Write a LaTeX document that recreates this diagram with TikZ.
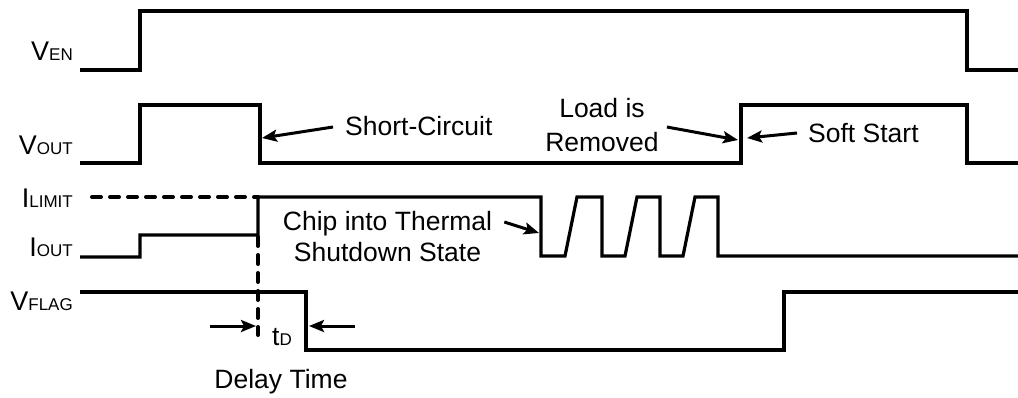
\documentclass[tikz,border=0pt]{standalone}
\usepackage{fontspec}
\setmainfont{Liberation Sans}
\usetikzlibrary{arrows.meta,positioning}
\newcommand{\signame}[2]{#1{\fontsize{17}{20}\selectfont #2}}

\begin{document}
\begin{tikzpicture}[x=1pt,y=-1pt,
  wave/.style={line width=3.2pt, line join=miter},
  limit/.style={line width=4pt, dash pattern=on 9pt off 9pt, line cap=round},
  sig/.style={anchor=base east, inner sep=0pt, font=\fontsize{27}{30}\selectfont},
  note/.style={inner sep=0pt, align=center, font=\fontsize{26.5}{34}\selectfont},
  pointer/.style={line width=3pt, -{Stealth[length=15pt,width=12pt,inset=3pt]}}
]
\useasboundingbox (0,0) rectangle (1018,397);

% signal names
\node[sig] (ven)   at (73,60)  {\signame{V}{EN}};
\node[sig] (vout)  at (73,154) {\signame{V}{OUT}};
\node[sig] (ilim)  at (73,207) {\signame{I}{LIMIT}};
\node[sig] (iout)  at (73,256) {\signame{I}{OUT}};
\node[sig] (vflag) at (73,310) {\signame{V}{FLAG}};

% waveforms
\draw[wave] (80,70) -- (140,70) -- (140,11) -- (967,11) -- (967,70) -- (1018,70);
\draw[wave] (80,163) -- (140,163) -- (140,105) -- (260,105) -- (260,163)
  -- (741,163) -- (741,105) -- (967,105) -- (967,163) -- (1018,163);
\draw[wave] (80,257) -- (140,257) -- (140,235) -- (258,235) -- (258,197)
  -- (541,197) -- (541,256) -- (565,256) -- (577,197) -- (602,197)
  -- (602,256) -- (625,256) -- (637,197) -- (660,197)
  -- (660,256) -- (683,256) -- (695,197) -- (718,197)
  -- (718,256) -- (1018,256);
\draw[wave] (80,292) -- (306,292) -- (306,350) -- (784,350) -- (784,292) -- (1018,292);
\draw[limit] (92,197) -- (258,197);
\draw[limit] (258,237) -- (258,335);

% annotations
\node[note, anchor=west] (sc) at (345,126) {Short-Circuit};
\node[note] (load) at (602,125) {Load is\\Removed};
\node[note, anchor=west] (soft) at (808,133) {Soft Start};
\node[note, font=\fontsize{26.5}{31}\selectfont] (chip) at (387.5,237) {Chip into Thermal\\Shutdown State};
\node[inner sep=0pt, font=\fontsize{26.5}{30}\selectfont] (td) at (282,337) {\signame{t}{D}};
\node[note] (delay) at (281,382) {Delay Time};

\coordinate (sctip)   at (262,138);
\coordinate (loadtip) at (738,140);
\coordinate (softtip) at (747,138);
\coordinate (chiptip) at (539,233);
\coordinate (tdla) at (210,326);
\coordinate (tdlb) at (256,326);
\coordinate (tdra) at (355,326);
\coordinate (tdrb) at (309,326);

\draw[pointer] ([shift={(-12,1)}]sc.west) -- (sctip);
\draw[pointer] ([shift={(8,2)}]load.east) -- (loadtip);
\draw[pointer] ([shift={(-11,0)}]soft.west) -- (softtip);
\draw[pointer] ([shift={(12,-15)}]chip.east) -- (chiptip);
\draw[pointer] (tdla) -- (tdlb);
\draw[pointer] (tdra) -- (tdrb);
\end{tikzpicture}
\end{document}
